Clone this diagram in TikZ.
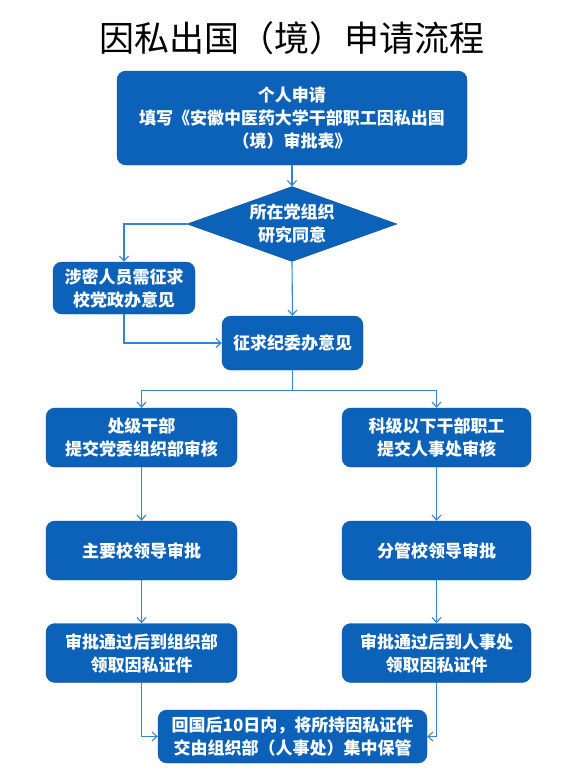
\documentclass[tikz,border=0pt]{standalone}
\usepackage{fontspec}
\setmainfont{Noto Sans CJK SC}
\usetikzlibrary{arrows.meta,shapes.geometric}

\definecolor{boxblue}{RGB}{12,98,184}
\definecolor{edgeblue}{RGB}{8,82,160}
\definecolor{lineblue}{RGB}{48,134,214}

\begin{document}
\begin{tikzpicture}[
    x=1pt, y=-1pt,
    stepbox/.style={
        rectangle, rounded corners=9pt, fill=boxblue, draw=edgeblue,
        text=white, align=center, inner sep=0pt,
        font=\fontsize{17}{23}\selectfont\bfseries
    },
    choice/.style={
        diamond, fill=boxblue, draw=edgeblue, inner sep=0pt,
        minimum width=210pt, minimum height=75pt
    },
    flow/.style={lineblue, line width=1.1pt, -{Straight Barb[length=5pt,width=9pt]}}
]

    \useasboundingbox (0,0) rectangle (584,780);

    \node (title) at (292,38) {\fontsize{35}{40}\selectfont 因私出国（境）申请流程};

    \node[stepbox, minimum width=350pt, minimum height=94pt] (apply) at (292,118)
        {个人申请\\填写《安徽中医药大学干部职工因私出国\\（境）审批表》};
    \node[choice] (party) at (292,224) {};
    \node[text=white, align=center, font=\fontsize{17}{23}\selectfont\bfseries] (partytext) at (party.center)
        {所在党组织\\研究同意};
    \node[stepbox, minimum width=142pt, minimum height=52pt] (secret) at (124,288)
        {涉密人员需征求\\校党政办意见};
    \node[stepbox, minimum width=141pt, minimum height=54pt] (disc) at (292.5,343)
        {征求纪委办意见};

    \node[stepbox, minimum width=191pt, minimum height=59pt] (dept) at (141.5,437.5)
        {处级干部\\提交党委组织部审核};
    \node[stepbox, minimum width=189pt, minimum height=59pt] (staff) at (436.5,437.5)
        {科级以下干部职工\\提交人事处审核};
    \node[stepbox, minimum width=191pt, minimum height=59pt] (chief) at (141.5,550.5)
        {主要校领导审批};
    \node[stepbox, minimum width=189pt, minimum height=59pt] (vice) at (436.5,550.5)
        {分管校领导审批};
    \node[stepbox, minimum width=191pt, minimum height=59pt] (getorg) at (141.5,653)
        {审批通过后到组织部\\领取因私证件};
    \node[stepbox, minimum width=189pt, minimum height=59pt] (gethr) at (436.5,653)
        {审批通过后到人事处\\领取因私证件};
    \node[stepbox, minimum width=269pt, minimum height=53pt] (keep) at (292.5,736.5)
        {回国后10日内，将所持因私证件\\交由组织部（人事处）集中保管};

    \draw[flow] (apply.south) -- (party.north);
    \draw[flow] (party.west) -| (secret.north);
    \draw[flow] (party.south) -- (disc.north);
    \draw[flow] (secret.south) |- (disc.west);
    \draw[flow] (disc.south) -- ++(0,20) -| (dept.north);
    \draw[flow] (disc.south) -- ++(0,20) -| (staff.north);
    \draw[flow] (dept.south) -- (chief.north);
    \draw[flow] (staff.south) -- (vice.north);
    \draw[flow] (chief.south) -- (getorg.north);
    \draw[flow] (vice.south) -- (gethr.north);
    \draw[flow] (getorg.south) |- (keep.west);
    \draw[flow] (gethr.south) |- (keep.east);

\end{tikzpicture}
\end{document}
